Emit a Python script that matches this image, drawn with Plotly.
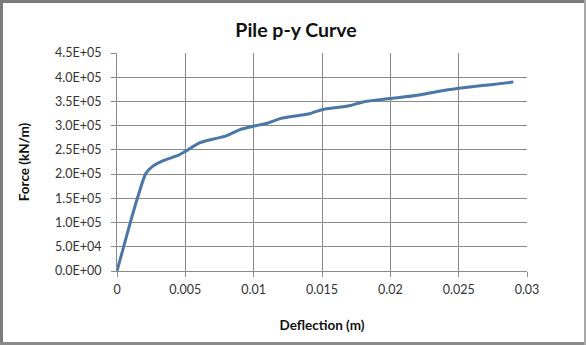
import plotly.graph_objects as go

# Pile lateral load response (p-y curve)
deflection_m = [0, 0.001, 0.0016, 0.0021, 0.0026, 0.0033, 0.0045, 0.005, 0.006,
                0.007, 0.008, 0.009, 0.010, 0.011, 0.012, 0.014, 0.015, 0.017,
                0.018, 0.020, 0.022, 0.023, 0.025, 0.029]
force_kn_per_m = [0, 1.03e5, 1.60e5, 2.01e5, 2.16e5, 2.27e5, 2.39e5, 2.47e5, 2.64e5,
                  2.72e5, 2.79e5, 2.92e5, 2.99e5, 3.05e5, 3.15e5, 3.24e5, 3.33e5,
                  3.41e5, 3.49e5, 3.56e5, 3.63e5, 3.68e5, 3.77e5, 3.90e5]

x_tick_vals = [0, 0.005, 0.01, 0.015, 0.02, 0.025, 0.03]
x_tick_text = ["0", "0.005", "0.01", "0.015", "0.02", "0.025", "0.03"]
y_tick_vals = [0, 5e4, 1e5, 1.5e5, 2e5, 2.5e5, 3e5, 3.5e5, 4e5, 4.5e5]
y_tick_text = ["0.0E+00", "5.0E+04", "1.0E+05", "1.5E+05", "2.0E+05",
               "2.5E+05", "3.0E+05", "3.5E+05", "4.0E+05", "4.5E+05"]

W, H = 586, 345
ML, MR, MT, MB = 117, 59, 53, 74
PW, PH = W - ML - MR, H - MT - MB

def px(x):
    return (x - ML) / PW

def py(y):
    return 1 - (y - MT) / PH

FONT = "Lato, 'Open Sans', sans-serif"
GRID = "#8a8a8a"

fig = go.Figure(go.Scatter(
    x=deflection_m, y=force_kn_per_m, mode="lines",
    line=dict(color="#4a76a8", width=3, shape="spline", smoothing=0.6),
    showlegend=False,
))

# chart frame around the whole figure
frame = []
for (x0, y0, x1, y1, c) in [
    (0, 0, W, 3, "#7b7b7b"),
    (0, 0, 3, H, "#7b7b7b"),
    (0, H - 3, W, H, "#8a8a8a"),
    (W - 2, 0, W, H, "#a8a8a8"),
]:
    frame.append(dict(type="rect", xref="paper", yref="paper",
                      x0=px(x0), x1=px(x1), y0=py(y1), y1=py(y0),
                      fillcolor=c, line=dict(width=0), layer="above"))

fig.update_layout(
    width=W, height=H,
    margin=dict(l=ML, r=MR, t=MT, b=MB),
    paper_bgcolor="white", plot_bgcolor="white",
    font=dict(family=FONT, size=12.5, color="#333333"),
    title=dict(text="<b>Pile p-y Curve</b>", x=px(296), xref="paper",
               xanchor="center", y=1 - 30 / H, yanchor="middle",
               font=dict(size=19.5, color="#111111", family=FONT)),
    xaxis=dict(range=[0, 0.03], tickvals=x_tick_vals, ticktext=x_tick_text,
               showgrid=True, gridcolor=GRID, gridwidth=1,
               showline=True, linecolor=GRID, linewidth=1,
               ticks="outside", ticklen=5, tickcolor=GRID,
               ticklabelstandoff=2,
               zeroline=False, mirror=False,
               title=dict(text="<b>Deflection (m)</b>", standoff=24,
                          font=dict(size=13.5, color="#111111"))),
    yaxis=dict(range=[0, 4.5e5], tickvals=y_tick_vals, ticktext=y_tick_text,
               showgrid=True, gridcolor=GRID, gridwidth=1,
               showline=True, linecolor=GRID, linewidth=1,
               ticks="outside", ticklen=5, tickcolor=GRID,
               ticklabelstandoff=7,
               zeroline=False,
               title=dict(text="<b>Force (kN/m)</b>", standoff=22,
                          font=dict(size=13.5, color="#111111"))),
    shapes=frame,
)

fig.write_html("out.html")
